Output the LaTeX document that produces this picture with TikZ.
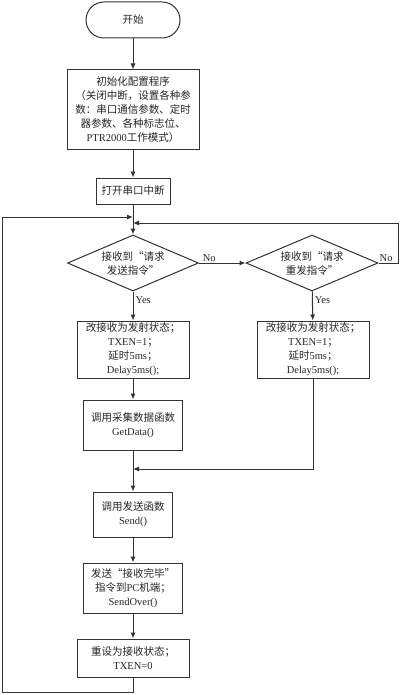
\documentclass[tikz,border=0pt]{standalone}
\usepackage{fontspec}
\setmainfont{Liberation Serif}
\newfontfamily\cjk{Noto Sans CJK SC}
\newcommand{\zh}[1]{{\cjk #1}}
\usetikzlibrary{shapes.geometric,positioning,arrows.meta}

\tikzset{
  lbl/.style={font=\fontsize{10.5}{14}\selectfont, text=black!85},
  stepbox/.style={lbl, draw=black!80, line width=1pt, align=center, inner sep=0pt},
  termbox/.style={stepbox, rounded corners=18pt},
  askbox/.style={lbl, draw=black!80, line width=1pt, diamond, aspect=2.35, align=center, inner sep=0pt},
  flow/.style={draw=black!80, line width=1pt, -{Latex[length=6pt,width=5pt]}},
  wire/.style={draw=black!80, line width=1pt}
}

\begin{document}
\begin{tikzpicture}[x=1pt,y=-1pt]
        \useasboundingbox (0,0) rectangle (400,695);

        % Steps
        \node[termbox, minimum width=94, minimum height=36] (start) at (133,20) {\zh{开始}};
        \node[stepbox, minimum width=132, minimum height=80] (init) at (133,110)
          {\zh{初始化配置程序}\\ \zh{（关闭中断，设置各种参}\\ \zh{数：串口通信参数、定时}\\ \zh{器参数、各种标志位、}\\ PTR2000\zh{工作模式）}};
        \node[stepbox, minimum width=74, minimum height=26] (openint) at (133,191) {\zh{打开串口中断}};

        \node[askbox, minimum width=131, minimum height=56] (asksend) at (133,263) {\zh{接收到“请求}\\ \zh{发送指令”}};
        \node[askbox, minimum width=132, minimum height=56] (askresend) at (312,263) {\zh{接收到“请求}\\ \zh{重发指令”}};

        \node[stepbox, minimum width=112, minimum height=57] (txl) at (133,349.5)
          {\zh{改接收为发射状态；}\\ TXEN=1\zh{；}\\ \zh{延时}5ms\zh{；}\\ Delay5ms();};
        \node[stepbox, minimum width=112, minimum height=57] (txr) at (313,349.5)
          {\zh{改接收为发射状态；}\\ TXEN=1\zh{；}\\ \zh{延时}5ms\zh{；}\\ Delay5ms();};

        \node[stepbox, minimum width=99, minimum height=50] (getdata) at (133,425) {\zh{调用采集数据函数}\\ GetData()};
        \node[stepbox, minimum width=79, minimum height=45] (send) at (133,514.5) {\zh{调用发送函数}\\ Send()};
        \node[stepbox, minimum width=99, minimum height=50] (sendover) at (133,588)
          {\zh{发送“接收完毕”}\\ \zh{指令到}PC\zh{机端；}\\ SendOver()};
        \node[stepbox, minimum width=112, minimum height=38] (reset) at (133,658) {\zh{重设为接收状态；}\\ TXEN=0};

        % Join points
        \coordinate (jtop) at (133,217);
        \coordinate (jright) at (133,223);
        \coordinate (jlow) at (133,469);

        % Connectors
        \draw[flow] (start) -- (init);
        \draw[flow] (init) -- (openint);
        \draw[flow] (openint) -- (asksend);
        \draw[flow] (asksend) -- node[lbl, anchor=south west, pos=0.05, inner sep=1pt] {No} (askresend);
        \draw[flow] (askresend.east) -- (398,263) -- (398,223) -- (jright);
        \node[lbl, anchor=south west, inner sep=1pt] at (askresend.east) {No};

        \draw[flow] (asksend) -- node[lbl, anchor=west, pos=0.3, inner sep=1pt, xshift=1pt] {Yes} (txl);
        \draw[flow] (askresend) -- node[lbl, anchor=west, pos=0.3, inner sep=1pt, xshift=1pt] {Yes} (txr);

        \draw[flow] (txl) -- (getdata);
        \draw[flow] (txr.south) |- (jlow);
        \draw[flow] (getdata) -- (send);
        \draw[flow] (send) -- (sendover);
        \draw[flow] (sendover) -- (reset);

        % Loop back
        \draw[flow] (reset.south) -- (133,692) -- (2,692) -- (2,217) -- (jtop);
      \end{tikzpicture}
\end{document}
